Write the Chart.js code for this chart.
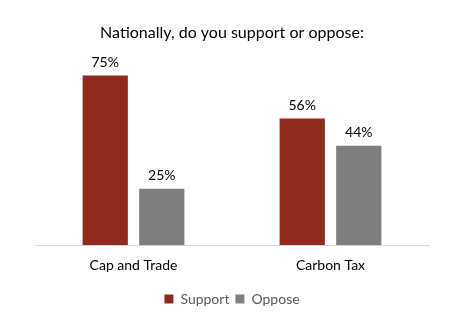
<!DOCTYPE html>
<html>
<head>
<meta charset="utf-8">
<script src="https://cdn.jsdelivr.net/npm/chart.js@4"></script>
<style>
  html, body { margin: 0; padding: 0; background: #fff; }
  #wrap { width: 468px; height: 319px; position: relative; }
</style>
</head>
<body>
<div id="wrap"><canvas id="supportChart"></canvas></div>
<script>
const categories = ["Cap and Trade", "Carbon Tax"];
const supportValues = [75, 56];
const opposeValues = [25, 44];

// Draw the value labels above each bar
const valueLabels = {
  id: "valueLabels",
  afterDatasetsDraw(chart) {
    const ctx = chart.ctx;
    ctx.save();
    ctx.font = "14px Lato";
    ctx.fillStyle = "#000";
    ctx.textAlign = "center";
    ctx.textBaseline = "bottom";
    chart.data.datasets.forEach((ds, i) => {
      chart.getDatasetMeta(i).data.forEach((bar, j) => {
        ctx.fillText(ds.data[j] + "%", bar.x, bar.y - 6);
      });
    });
    ctx.restore();
  },
};

document.addEventListener("DOMContentLoaded", () => {
  const ctx = document.getElementById("supportChart").getContext("2d");

  new Chart(ctx, {
    type: "bar",
    data: {
      labels: categories,
      datasets: [
        {
          label: "Support",
          data: supportValues,
          backgroundColor: "#8E2A1E",
          categoryPercentage: 0.574,
          barPercentage: 0.8,
        },
        {
          label: "Oppose",
          data: opposeValues,
          backgroundColor: "#7F7F7F",
          categoryPercentage: 0.574,
          barPercentage: 0.8,
        },
      ],
    },
    options: {
      responsive: true,
      maintainAspectRatio: false,
      animation: false,
      layout: {
        padding: { left: 35, right: 39, top: 0, bottom: 3 },
      },
      scales: {
        x: {
          grid: { display: false, drawTicks: false },
          border: { display: true, color: "#D9D9D9", width: 1 },
          ticks: {
            padding: 12,
            color: "#000",
            font: { family: "Lato", size: 14 },
          },
        },
        y: {
          display: false,
          min: 0,
          max: 80,
        },
      },
      plugins: {
        title: {
          display: true,
          text: "Nationally, do you support or oppose:",
          color: "#000",
          font: { family: "Lato", size: 16, weight: "normal" },
          padding: { top: 23, bottom: 22 },
        },
        legend: {
          position: "bottom",
          labels: {
            boxWidth: 9,
            boxHeight: 9,
            color: "#595959",
            font: { family: "Lato", size: 14 },
            padding: 6,
          },
        },
        tooltip: { enabled: false },
      },
    },
    plugins: [valueLabels],
  });
});
</script>
</body>
</html>
